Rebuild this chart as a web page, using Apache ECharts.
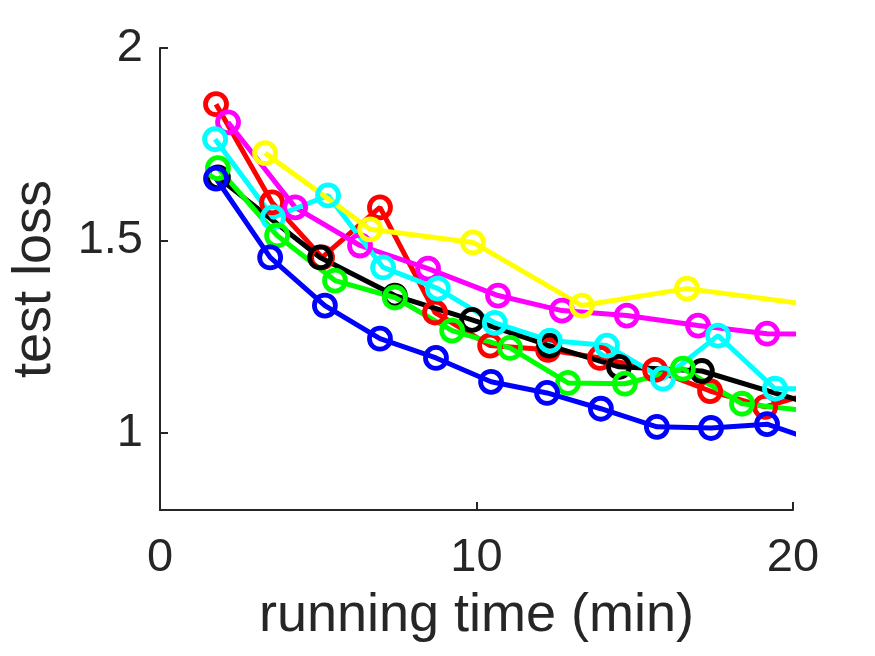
<!DOCTYPE html>
<html lang="en">
  <head>
    <meta charset="UTF-8" />
    <title>test loss vs running time</title>
    <style>
      html,
      body {
        width: 100%;
        height: 100%;
        margin: 0;
        overflow: hidden;
        background: #fff;
      }
      #main {
        width: 875px;
        height: 656px;
      }
    </style>
  </head>
  <body>
    <div id="main"></div>
    <script src="https://cdn.jsdelivr.net/npm/echarts@6.0.0/dist/echarts.min.js"></script>
    <script>
      // running time (min) and test loss for each run
      const redTime = [1.77, 3.54, 5.12, 6.95, 8.69, 10.43, 12.26, 13.9, 15.64, 17.38, 19.12, 20.86];
      const redLoss = [1.854, 1.599, 1.456, 1.586, 1.313, 1.227, 1.216, 1.195, 1.164, 1.109, 1.068, 1.11];

      const blackTime = [1.83, 5.06, 7.42, 9.86, 12.3, 14.5, 17.12, 21.6];
      const blackLoss = [1.664, 1.456, 1.357, 1.294, 1.227, 1.172, 1.161, 1.05];

      const magentaTime = [2.15, 4.27, 6.32, 8.47, 10.68, 12.7, 14.75, 17.0, 19.18, 21.3];
      const magentaLoss = [1.807, 1.586, 1.487, 1.427, 1.357, 1.318, 1.305, 1.279, 1.258, 1.256];

      const cyanTime = [1.74, 3.57, 5.31, 7.05, 8.78, 10.58, 12.32, 14.12, 15.89, 17.63, 19.43, 21.2];
      const cyanLoss = [1.763, 1.56, 1.617, 1.43, 1.375, 1.286, 1.24, 1.227, 1.141, 1.253, 1.115, 1.115];

      const yellowTime = [3.32, 6.64, 9.89, 13.33, 16.65, 20.2];
      const yellowLoss = [1.727, 1.529, 1.495, 1.331, 1.375, 1.337];

      const greenTime = [1.83, 3.7, 5.53, 7.42, 9.23, 11.06, 12.89, 14.69, 16.52, 18.39, 20.22];
      const greenLoss = [1.688, 1.513, 1.396, 1.352, 1.266, 1.221, 1.13, 1.128, 1.167, 1.076, 1.06];

      const blueTime = [1.77, 3.48, 5.21, 6.95, 8.72, 10.46, 12.23, 13.93, 15.7, 17.41, 19.18, 20.92];
      const blueLoss = [1.661, 1.456, 1.331, 1.245, 1.195, 1.133, 1.104, 1.063, 1.016, 1.013, 1.023, 0.974];

      const xTicks = [0, 10, 20];
      const yTicks = [1, 1.5, 2];

      // plotting order matters: later runs sit on top
      const runs = [
        { color: "#ff0000", time: redTime, loss: redLoss },
        { color: "#000000", time: blackTime, loss: blackLoss },
        { color: "#ff00ff", time: magentaTime, loss: magentaLoss },
        { color: "#00ffff", time: cyanTime, loss: cyanLoss },
        { color: "#ffff00", time: yellowTime, loss: yellowLoss },
        { color: "#00ff00", time: greenTime, loss: greenLoss },
        { color: "#0000ff", time: blueTime, loss: blueLoss },
      ];

      const axisColor = "#262626";
      const font = "'Liberation Sans', Arial, Helvetica, sans-serif";

      const option = {
        animation: false,
        backgroundColor: "#fff",
        grid: {
          left: 160,
          right: 82,
          top: 48,
          bottom: 146,
          outerBoundsMode: "none",
        },
        xAxis: {
          type: "value",
          min: 0,
          max: 20,
          interval: 10,
          name: "running time (min)",
          nameLocation: "middle",
          nameGap: 79,
          nameTextStyle: { color: axisColor, fontSize: 54, fontFamily: font },
          axisLine: { lineStyle: { color: axisColor, width: 2 } },
          axisTick: {
            inside: true,
            length: 8,
            customValues: xTicks,
            lineStyle: { color: axisColor, width: 2 },
          },
          axisLabel: {
            customValues: xTicks,
            margin: 25,
            color: axisColor,
            fontSize: 47,
            fontFamily: font,
          },
          splitLine: { show: false },
        },
        yAxis: {
          type: "value",
          min: 0.8,
          max: 2,
          name: "test loss",
          nameLocation: "middle",
          nameGap: 98,
          nameTextStyle: { color: axisColor, fontSize: 54, fontFamily: font },
          axisLine: { show: true, lineStyle: { color: axisColor, width: 2 } },
          axisTick: {
            show: true,
            inside: true,
            length: 8,
            customValues: yTicks,
            lineStyle: { color: axisColor, width: 2 },
          },
          axisLabel: {
            customValues: yTicks,
            margin: 17,
            color: axisColor,
            fontSize: 47,
            fontFamily: font,
          },
          splitLine: { show: false },
        },
        series: runs.map((r) => ({
          type: "line",
          clip: true,
          data: r.time.map((t, i) => [t, r.loss[i]]),
          symbol: "circle",
          symbolSize: 21,
          showAllSymbol: true,
          color: r.color,
          lineStyle: { color: r.color, width: 5 },
          itemStyle: { color: "rgba(0,0,0,0)", borderColor: r.color, borderWidth: 4.8 },
        })),
      };

      const myChart = echarts.init(document.getElementById("main"));
      myChart.setOption(option);
    </script>
  </body>
</html>
